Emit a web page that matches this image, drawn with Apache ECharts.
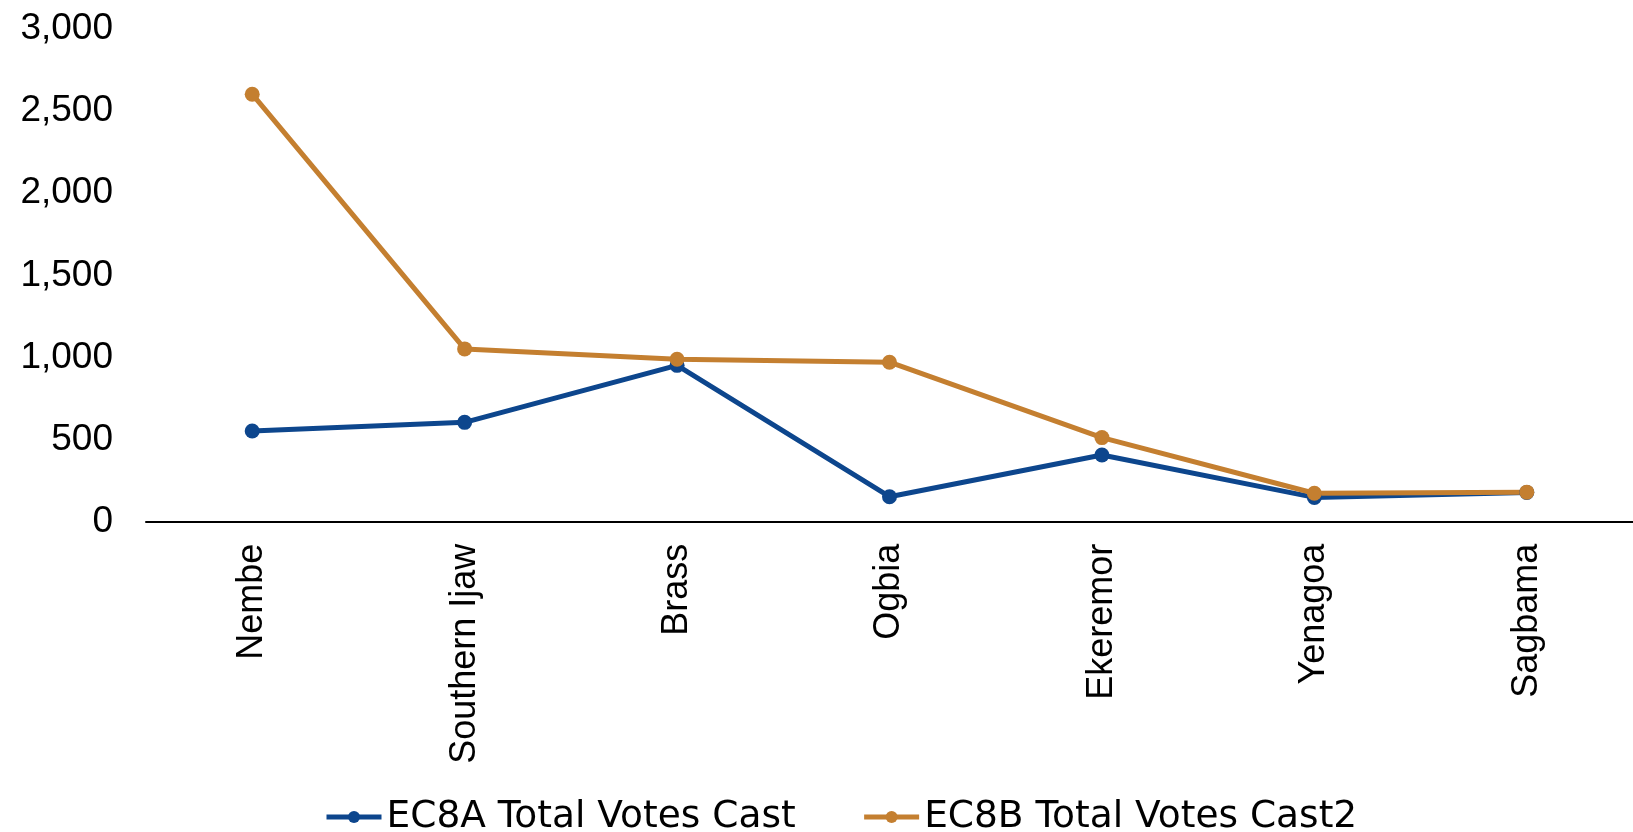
<!DOCTYPE html>
<html>
<head>
<meta charset="utf-8">
<script src="https://cdn.jsdelivr.net/npm/echarts@6/dist/echarts.min.js"></script>
<style>
html,body{margin:0;padding:0;background:#fff;}
#chart{width:1633px;height:832px;}
</style>
</head>
<body>
<div id="chart"></div>
<script>
const categories = ["Nembe", "Southern Ijaw", "Brass", "Ogbia", "Ekeremor", "Yenagoa", "Sagbama"];
const ec8a = [552, 605, 952, 152, 406, 148, 178];
const ec8b = [2603, 1052, 989, 971, 512, 173, 180];
const seriesNames = ["EC8A Total Votes Cast", "EC8B Total Votes Cast2"];
const yTicks = {min: 0, max: 3000, interval: 500};

const blue = '#0D468D';
const orange = '#C47F30';

const chart = echarts.init(document.getElementById('chart'));
chart.setOption({
  animation: false,
  backgroundColor: '#ffffff',
  grid: {left: 146, top: 29, width: 1499, height: 492.7, containLabel: false},
  legend: {
    left: 319, top: 793,
    itemWidth: 55, itemHeight: 15, itemGap: 66,
    lineStyle: {width: 5},
    textStyle: {fontFamily: 'DejaVu Sans', fontSize: 37.5, color: '#000'},
    data: seriesNames
  },
  xAxis: {
    type: 'category',
    data: categories,
    boundaryGap: true,
    axisLine: {show: true, lineStyle: {color: '#000', width: 2}},
    axisTick: {show: false},
    axisLabel: {rotate: 90, margin: 22, fontFamily: 'Liberation Sans', fontSize: 36, color: '#000', interval: 0}
  },
  yAxis: {
    type: 'value',
    min: yTicks.min, max: yTicks.max, interval: yTicks.interval,
    axisLine: {show: false},
    axisTick: {show: false},
    splitLine: {show: false},
    axisLabel: {
      margin: 33, fontFamily: 'Liberation Sans', fontSize: 37, color: '#000',
      padding: [4, 0, 0, 0],
      formatter: v => v.toLocaleString('en-US')
    }
  },
  series: [
    {
      name: seriesNames[0], type: 'line', data: ec8a,
      symbol: 'circle', symbolSize: 15,
      lineStyle: {color: blue, width: 5},
      itemStyle: {color: blue}
    },
    {
      name: seriesNames[1], type: 'line', data: ec8b,
      symbol: 'circle', symbolSize: 15,
      lineStyle: {color: orange, width: 5},
      itemStyle: {color: orange}
    }
  ]
});
</script>
</body>
</html>
